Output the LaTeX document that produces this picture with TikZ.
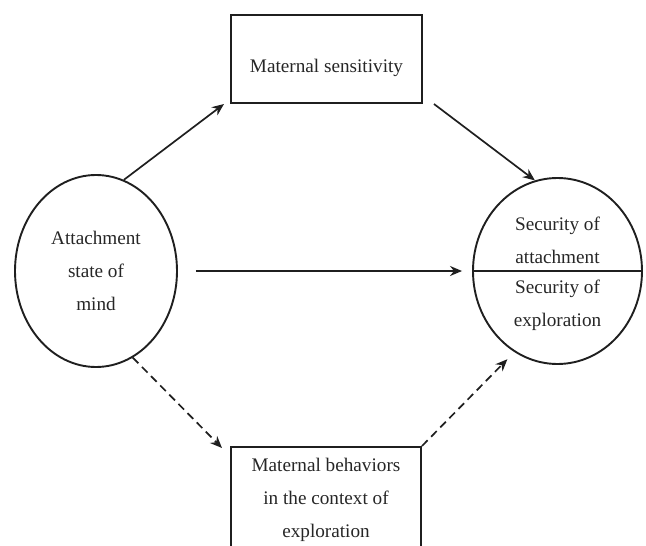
\documentclass[tikz,border=0pt]{standalone}
\usepackage{fontspec}
\setmainfont{Liberation Serif}
\usetikzlibrary{shapes,positioning,arrows.meta}
\tikzset{>={Stealth[length=12pt,width=10pt]}}
\colorlet{penColor}{black!88}

\begin{document}
\begin{tikzpicture}[x=1pt,y=-1pt,
  txt/.style={align=center,font=\fontsize{19.2}{33}\selectfont,text=black!85},
  boxnode/.style={draw=penColor,line width=2pt,rectangle,inner sep=0pt},
  ovalnode/.style={draw=penColor,line width=1.9pt,ellipse,inner sep=0pt},
  arr/.style={->,draw=penColor,line width=1.7pt},
  dasharr/.style={arr,dash pattern=on 8pt off 5pt}]
				\useasboundingbox (0,0) rectangle (646,546);
				\node [ovalnode,minimum width=162pt,minimum height=192pt] (mind) at (96,271) {};
				\node [ovalnode,minimum width=169pt,minimum height=186pt] (secure) at (557.5,271) {};
				\node [boxnode,minimum width=191pt,minimum height=88pt] (sens) at (326.5,59) {};
				\node [boxnode,minimum width=190pt,minimum height=110pt] (expl) at (326,502) {};
				\draw [penColor,line width=1.7pt] (secure.west) -- (secure.east);
				
				\node [txt] (mindtxt) at (mind) {Attachment\\state of\\mind};
				\node [txt] (senstxt) at (326.5,68) {Maternal sensitivity};
				\node [txt] (attach) at (557.5,240) {Security of\\attachment};
				\node [txt] (explore) at (557.5,305) {Security of\\exploration};
				\node [txt] (expltxt) at (326,500) {Maternal behaviors\\in the context of\\exploration};
				
				\draw [arr] (mind.73) -- ([xshift=-6pt]sens.south west);
				\draw [arr] ([xshift=11pt]sens.south east) -- (secure.104);
				\draw [arr,shorten <=18pt,shorten >=10pt] (mind.east) -- (secure.west);
				%dashed paths
				\draw [dasharr] (mind.-67) -- ([xshift=-8pt,yshift=-2pt]expl.north west);
				\draw [dasharr,shorten >=10pt] (expl.north east) -- (secure.-118);
\end{tikzpicture}
\end{document}
